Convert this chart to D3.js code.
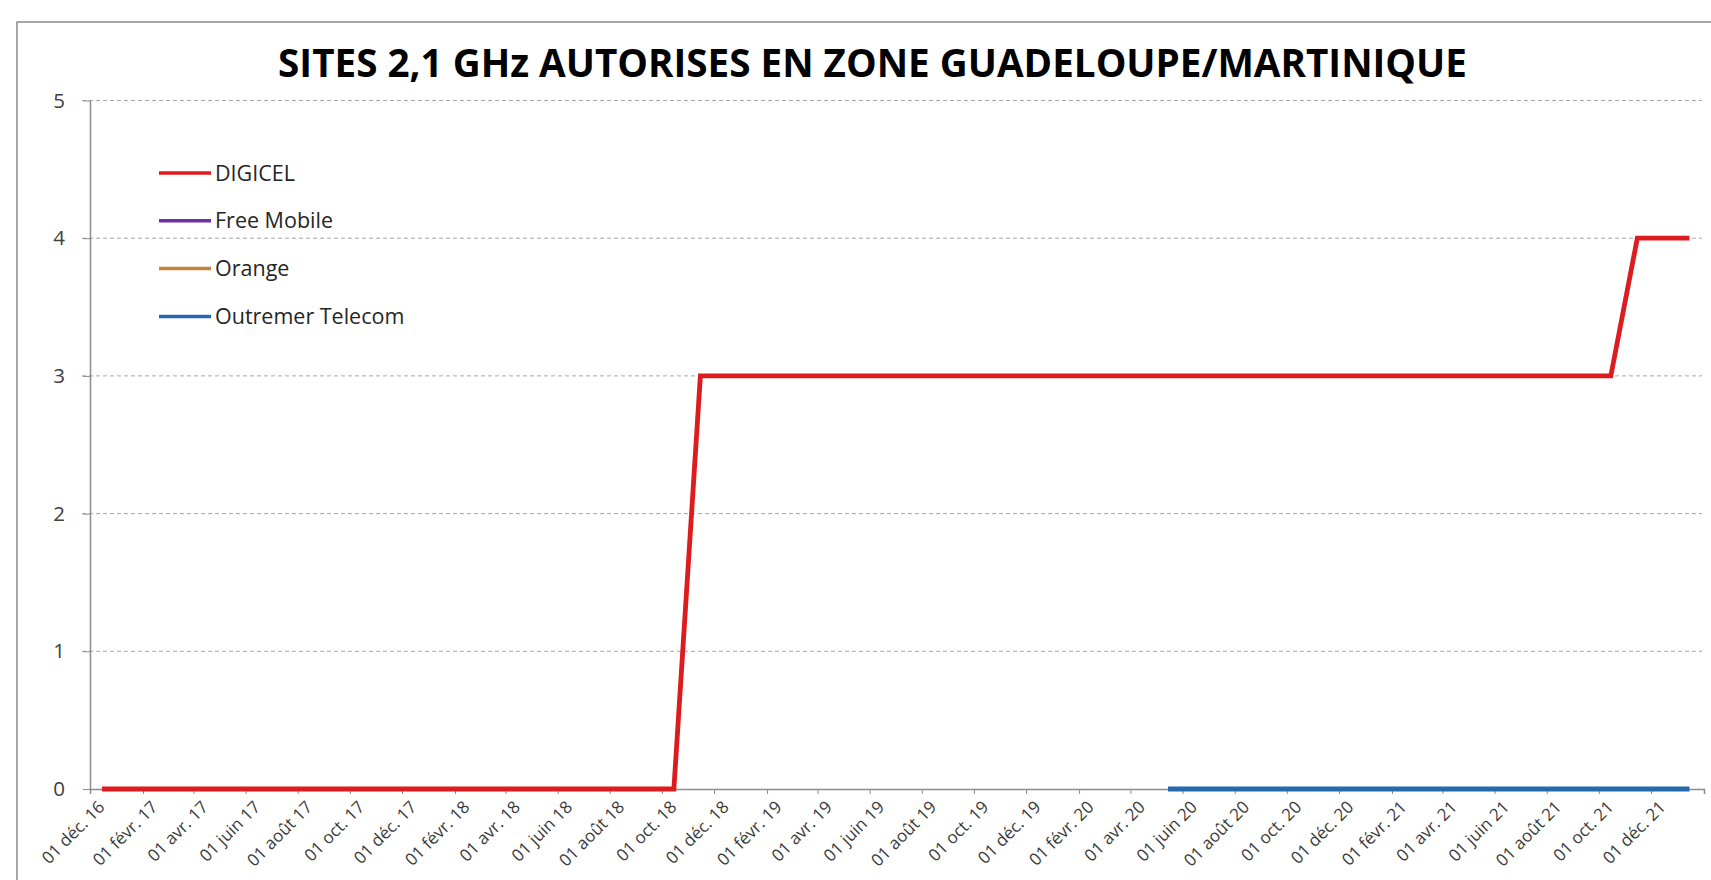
<!DOCTYPE html>
<html>
<head>
<meta charset="utf-8">
<script src="https://cdn.jsdelivr.net/npm/d3@7"></script>
<style>
	body{margin:0;background:#fff;}
	svg{display:block;font-family:"Open Sans",sans-serif;}
</style>
</head>
<body>
<svg id="chart"></svg>
<script>
// values (points are on the 15th of the month)
const titleText = 'SITES 2,1 GHz AUTORISES EN ZONE GUADELOUPE/MARTINIQUE';
const seriesNames = ['DIGICEL','Free Mobile','Orange','Outremer Telecom'];
const seriesColors = ['#dc1c1f','#7030a0','#c8803a','#2468ae'];

const digicelDates = ['2016-12-15','2018-10-15','2018-11-15','2021-10-15','2021-11-15','2022-01-15'];
const digicelValues = [0,0,3,3,4,4];
const freeMobileDates = [];
const freeMobileValues = [];
const orangeDates = [];
const orangeValues = [];
const outremerDates = ['2020-05-15','2022-01-15'];
const outremerValues = [0,0];

const yTicks = [0,1,2,3,4,5];
const xTickDates = ['2016-12-01','2017-02-01','2017-04-01','2017-06-01','2017-08-01','2017-10-01',
	'2017-12-01','2018-02-01','2018-04-01','2018-06-01','2018-08-01','2018-10-01',
	'2018-12-01','2019-02-01','2019-04-01','2019-06-01','2019-08-01','2019-10-01',
	'2019-12-01','2020-02-01','2020-04-01','2020-06-01','2020-08-01','2020-10-01',
	'2020-12-01','2021-02-01','2021-04-01','2021-06-01','2021-08-01','2021-10-01','2021-12-01'];
const xTickLabels = ['01 déc. 16','01 févr. 17','01 avr. 17','01 juin 17','01 août 17','01 oct. 17',
	'01 déc. 17','01 févr. 18','01 avr. 18','01 juin 18','01 août 18','01 oct. 18',
	'01 déc. 18','01 févr. 19','01 avr. 19','01 juin 19','01 août 19','01 oct. 19',
	'01 déc. 19','01 févr. 20','01 avr. 20','01 juin 20','01 août 20','01 oct. 20',
	'01 déc. 20','01 févr. 21','01 avr. 21','01 juin 21','01 août 21','01 oct. 21','01 déc. 21'];
const xDomain = ['2016-12-01','2022-02-01'];

const width = 1711, height = 880;
const plot = {left:90, right:1704, top:100.5, bottom:789};

const parse = d3.utcParse('%Y-%m-%d');
const series = [
	{dates:digicelDates, values:digicelValues},
	{dates:freeMobileDates, values:freeMobileValues},
	{dates:orangeDates, values:orangeValues},
	{dates:outremerDates, values:outremerValues}
].map((s,i)=>({
	name:seriesNames[i],
	color:seriesColors[i],
	points:s.dates.map((d,j)=>({date:parse(d), value:s.values[j]}))
}));

const svg = d3.select('#chart')
	.attr('width',width)
	.attr('height',height);

svg.append('rect')
	.attr('width',width).attr('height',height)
	.attr('fill','#fff');

// chart frame (cut off at right/bottom like the original)
svg.append('rect')
	.attr('x',17).attr('y',22)
	.attr('width',width).attr('height',height)
	.attr('fill','none')
	.attr('stroke','#8c8c8c')
	.attr('stroke-width',1.5);

const x = d3.scaleUtc()
	.domain(xDomain.map(parse))
	.range([plot.left, plot.right]);
const y = d3.scaleLinear()
	.domain([0,5])
	.range([plot.bottom, plot.top]);

// dashed gridlines
svg.append('g')
	.selectAll('line')
	.data(yTicks.filter(d=>d>0))
	.join('line')
		.attr('x1',plot.left-8)
		.attr('x2',1702)
		.attr('y1',d=>y(d))
		.attr('y2',d=>y(d))
		.attr('stroke','#a6a6a6')
		.attr('stroke-width',1)
		.attr('stroke-dasharray','4,3');

// y axis
const yAxis = svg.append('g')
	.attr('transform',`translate(${plot.left},0)`)
	.call(d3.axisLeft(y).tickValues(yTicks).tickFormat(d3.format('d'))
		.tickSize(7).tickSizeOuter(0).tickPadding(18));
yAxis.select('.domain').attr('stroke','#8c8c8c').attr('stroke-width',1.5);
yAxis.selectAll('.tick line').attr('stroke','#8c8c8c');
yAxis.selectAll('.tick text')
	.attr('fill','#404040')
	.style('font-size','20.5px')
	.style('font-family','"Open Sans",sans-serif');

// x axis
const labelByTime = new Map(xTickDates.map((d,i)=>[parse(d).getTime(), xTickLabels[i]]));
const xAxis = svg.append('g')
	.attr('transform',`translate(0,${plot.bottom})`)
	.call(d3.axisBottom(x)
		.tickValues(xTickDates.map(parse))
		.tickSize(5)
		.tickSizeOuter(5)
		.tickFormat(d=>labelByTime.get(d.getTime())));
xAxis.select('.domain').attr('stroke','#8c8c8c').attr('stroke-width',1.5);
xAxis.selectAll('.tick line').attr('stroke','#8c8c8c');
xAxis.selectAll('.tick text')
	.attr('fill','#3a3a3a')
	.attr('text-anchor','end')
	.attr('y',0).attr('dy','0.35em')
	.attr('transform','translate(11,15) rotate(-45)')
	.style('font-size','17px')
	.style('font-family','"Open Sans",sans-serif');

// lines
const line = d3.line()
	.x(d=>x(d.date))
	.y(d=>y(d.value));
svg.append('g')
	.selectAll('path')
	.data(series.filter(s=>s.points.length))
	.join('path')
		.attr('d',d=>line(d.points))
		.attr('fill','none')
		.attr('stroke',d=>d.color)
		.attr('stroke-width',4.8)
		.attr('stroke-linejoin','miter');

// legend
const legend = svg.append('g')
	.selectAll('g')
	.data(series)
	.join('g')
		.attr('transform',(d,i)=>`translate(159,${173 + i*47.8})`);
legend.append('line')
	.attr('x1',0).attr('x2',52)
	.attr('stroke',d=>d.color)
	.attr('stroke-width',3.5);
legend.append('text')
	.attr('x',56)
	.attr('dy','0.35em')
	.attr('fill','#262626')
	.style('font-size','21.5px')
	.text(d=>d.name);

// title, sized to the original's width
const title = svg.append('text')
	.attr('x',872.5)
	.attr('y',77)
	.attr('text-anchor','middle')
	.attr('fill','#000')
	.style('font-weight','bold')
	.style('font-size','36px')
	.text(titleText);
const tw = title.node().getComputedTextLength();
title.style('font-size',(36*1189/tw)+'px');
</script>
</body>
</html>
